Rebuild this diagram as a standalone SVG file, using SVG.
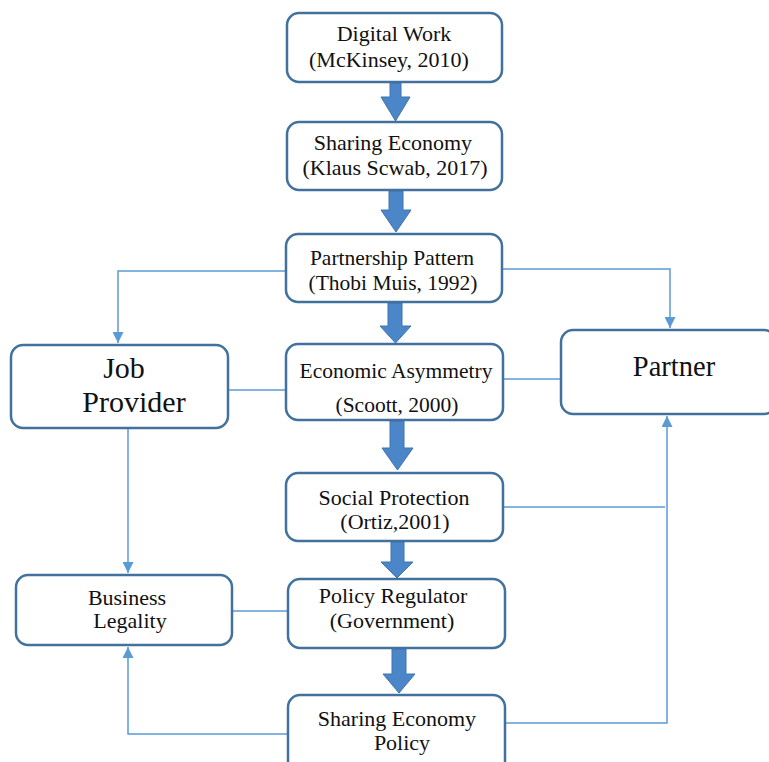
<svg xmlns="http://www.w3.org/2000/svg" width="769" height="762" viewBox="0 0 769 762">
<style>
.box{fill:#fff;stroke:#41719c;stroke-width:2.5}
text{fill:#111;text-anchor:middle}
.ln{fill:none;stroke:#5b9bd5;stroke-width:1.5}
.ba{fill:#4a86c8;stroke:#3f75ad;stroke-width:1}
</style>
<defs>
<marker id="ah" viewBox="0 0 10 10" refX="10" refY="5" markerWidth="11" markerHeight="11" markerUnits="userSpaceOnUse" orient="auto">
<path d="M0,0 L10,5 L0,10 z" fill="#5b9bd5"/>
</marker>
</defs>
<rect width="769" height="762" fill="#fff"/>
<g id="connectors">
<path class="ln" d="M286,271 H118 V343" marker-end="url(#ah)"/>
<path class="ln" d="M502,269 H670 V328" marker-end="url(#ah)"/>
<path class="ln" d="M228,390 H286"/>
<path class="ln" d="M502,379 H561"/>
<path class="ln" d="M128,428 V573" marker-end="url(#ah)"/>
<path class="ln" d="M503,507 H665"/>
<path class="ln" d="M504,723 H667 V416" marker-end="url(#ah)"/>
<path class="ln" d="M232,611 H288"/>
<path class="ln" d="M288,734 H128 V647" marker-end="url(#ah)"/>
<path class="ba" d="M390,83 H401 V97 H410 L395.5,121 L381,97 H390 Z"/>
<path class="ba" d="M389,191 H403 V210 H411 L396,232 L381,210 H389 Z"/>
<path class="ba" d="M388,303 H402 V326 H411 L395.5,343 L380,326 H388 Z"/>
<path class="ba" d="M390,421 H404 V448 H413 L397.5,470 L382,448 H390 Z"/>
<path class="ba" d="M391,542 H404 V562 H413 L397,578 L381,562 H391 Z"/>
<path class="ba" d="M392,649 H406 V674 H415 L399,693 L383,674 H392 Z"/>
</g>
<g font-family="Liberation Serif, Times New Roman, serif" font-size="22">
<g id="digital-work"><rect class="box" x="287" y="13" width="215" height="69" rx="12"/>
<text x="394" y="41">Digital Work</text><text x="389" y="67">(McKinsey, 2010)</text></g>
<g id="sharing-economy"><rect class="box" x="287" y="122" width="215" height="68" rx="12"/>
<text x="393" y="150">Sharing Economy</text><text x="395" y="175">(Klaus Scwab, 2017)</text></g>
<g id="partnership-pattern"><rect class="box" x="286" y="234" width="216" height="68" rx="12"/>
<text x="392" y="265" font-size="21.5">Partnership Pattern</text><text x="393" y="290" font-size="21.5">(Thobi Muis, 1992)</text></g>
<g id="economic-asymmetry"><rect class="box" x="286" y="344" width="217" height="76" rx="12"/>
<text x="396" y="378" font-size="21.5">Economic Asymmetry</text><text x="397" y="412" font-size="21.5">(Scoott, 2000)</text></g>
<g id="job-provider"><rect class="box" x="11" y="345" width="217" height="83" rx="12"/>
<text x="124" y="378" font-size="30">Job</text><text x="134" y="412" font-size="30">Provider</text></g>
<g id="partner"><rect class="box" x="561" y="330" width="215" height="84" rx="12"/>
<text x="674" y="376" font-size="28.5">Partner</text></g>
<g id="social-protection"><rect class="box" x="286" y="473" width="217" height="68" rx="12"/>
<text x="394" y="505">Social Protection</text><text x="395" y="529">(Ortiz,2001)</text></g>
<g id="policy-regulator"><rect class="box" x="288" y="579" width="217" height="69" rx="12"/>
<text x="393" y="603">Policy Regulator</text><text x="392" y="628">(Government)</text></g>
<g id="sharing-economy-policy"><rect class="box" x="288" y="695" width="217" height="80" rx="12"/>
<text x="397" y="726">Sharing Economy</text><text x="402" y="750">Policy</text></g>
<g id="business-legality"><rect class="box" x="16" y="575" width="216" height="70" rx="12"/>
<text x="127" y="605">Business</text><text x="130" y="628">Legality</text></g>
</g>
</svg>
